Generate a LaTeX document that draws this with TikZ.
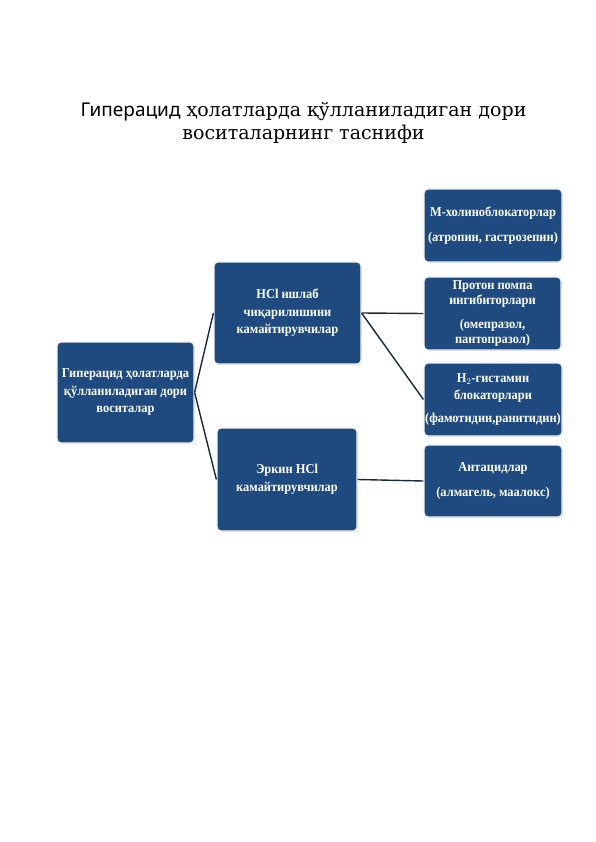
\documentclass[tikz,border=0pt]{standalone}
\usepackage{fontspec}
\setmainfont{Liberation Serif}
\newfontfamily\boxfont[FakeStretch=0.92]{Liberation Serif}
\newfontfamily\titleserif{DejaVu Serif}
\newfontfamily\titlesans{Noto Sans}
\usetikzlibrary{shadows}
\definecolor{boxblue}{RGB}{31,74,128}
\definecolor{linenavy}{RGB}{28,40,66}
\tikzset{
  box/.style={rectangle, rounded corners=4pt, fill=boxblue, draw=white!88!gray, line width=1.2pt,
    drop shadow={opacity=0.25, shadow xshift=0.8pt, shadow yshift=-0.8pt},
    text=white, font=\boxfont\bfseries\fontsize{13.5}{17.5}\selectfont, align=center, inner sep=1pt},
  conn/.style={draw=linenavy, line width=1.4pt}
}
\begin{document}
\begin{tikzpicture}[x=1pt,y=1pt]
\useasboundingbox (0,0) rectangle (596,-842);
\fill[white] (0,0) rectangle (596,-842);
\node (title) at (303.5,-123) [align=center, font=\fontsize{19}{23.5}\selectfont\titleserif]
  {{\titlesans Гиперацид} ҳолатларда қўлланиладиган дори\\воситаларнинг таснифи};
\node[box, minimum width=137pt, minimum height=101pt] (root) at (125.5,-392.5)
  {Гиперацид ҳолатларда\\қўлланиладиган дори\\воситалар};
\node[box, minimum width=147pt, minimum height=102pt] (hcl) at (287.5,-313)
  {НСl ишлаб\\чиқарилишини\\камайтирувчилар};
\node[box, minimum width=140pt, minimum height=103pt] (erkin) at (287,-479.5)
  {Эркин НСl\\камайтирувчилар};
\node[box, minimum width=138pt, minimum height=73pt] (mhol) at (493,-225.5)
  {М-холиноблокаторлар\\[7pt](атропин, гастрозепин)};
\node[box, minimum width=137pt, minimum height=73pt, font=\boxfont\bfseries\fontsize{13.5}{15.5}\selectfont] (proton) at (492.5,-313.5)
  {Протон помпа\\ингибиторлари\\[8pt](омепразол,\\пантопразол)};
\node[box, minimum width=138pt, minimum height=73pt] (htwo) at (493,-399.5)
  {Н$_2$-гистамин\\блокаторлари\\[5pt](фамотидин,ранитидин)};
\node[box, minimum width=138pt, minimum height=72pt] (antacid) at (493,-481)
  {Антацидлар\\[7pt](алмагель, маалокс)};
\draw[conn] (root.east) -- (hcl.west);
\draw[conn] (root.east) -- (erkin.west);
\draw[conn] (hcl.east) -- (proton.west);
\draw[conn] (hcl.east) -- (htwo.west);
\draw[conn] (erkin.east) -- (antacid.west);
\end{tikzpicture}
\end{document}
